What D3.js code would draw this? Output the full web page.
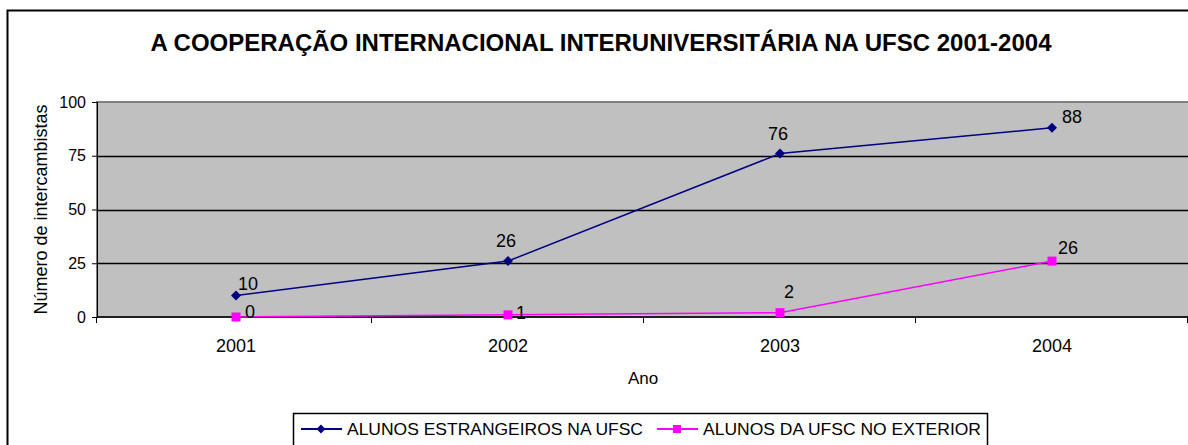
<!DOCTYPE html>
<html>
<head>
<meta charset="utf-8">
<script src="https://cdn.jsdelivr.net/npm/d3@7"></script>
<style>
  body { margin: 0; background: #fff; }
  svg { display: block; font-family: "Liberation Sans", Arial, sans-serif; }
</style>
</head>
<body>
<div id="chart"></div>
<script>
// -------------------- DATA --------------------
const anos = ["2001", "2002", "2003", "2004"];
const estrangeiros = [10, 26, 76, 88];
const exterior = [0, 1, 2, 26];
const yTicks = [0, 25, 50, 75, 100];
const nomesSeries = ["ALUNOS ESTRANGEIROS NA UFSC", "ALUNOS DA UFSC NO EXTERIOR"];

// deslocamento dos rótulos (layout, not data)
const offEstr = [[12, -12], [-2, -20], [-2, -20], [20, -11]];
const offExt = [[14, -5], [13, -2], [9, -21], [16, -13]];

const width = 1188, height = 445;
const plotLeft = 97, plotTop = 102, plotBottom = 317;

const svg = d3.select("#chart").append("svg")
  .attr("width", width)
  .attr("height", height);

// moldura externa
svg.append("rect")
  .attr("x", 7.5).attr("y", 10.5)
  .attr("width", width).attr("height", height)
  .attr("fill", "none").attr("stroke", "#000").attr("stroke-width", 2);

// titulo
svg.append("text")
  .attr("x", 601).attr("y", 51)
  .attr("text-anchor", "middle")
  .style("font-weight", "bold")
  .style("font-size", "24px")
  .text("A COOPERAÇÃO INTERNACIONAL INTERUNIVERSITÁRIA NA UFSC 2001-2004");

const x = d3.scaleBand()
  .domain(anos)
  .range([100, 1188]);

const y = d3.scaleLinear()
  .domain([0, 100])
  .range([plotBottom, plotTop]);

// area do grafico
svg.append("rect")
  .attr("x", plotLeft).attr("y", y(100))
  .attr("width", width + 10 - plotLeft)
  .attr("height", y(0) - y(100))
  .attr("fill", "#c0c0c0")
  .attr("stroke", "#808080").attr("stroke-width", 2);

// linhas de grade
svg.selectAll(".grid")
  .data(yTicks.filter(d => d > 0 && d < 100))
  .enter().append("line")
  .attr("x1", plotLeft).attr("x2", width)
  .attr("y1", d => Math.round(y(d)) + 0.5).attr("y2", d => Math.round(y(d)) + 0.5)
  .attr("stroke", "#000").attr("stroke-width", 1.5);

// eixo Y
const yAxis = svg.append("g")
  .attr("transform", `translate(${plotLeft},0)`)
  .call(d3.axisLeft(y).tickValues(yTicks).tickSize(5).tickPadding(6));
yAxis.select(".domain").attr("stroke", "#000");
yAxis.selectAll("text").style("font-size", "16px").style("font-family", "Liberation Sans, Arial").attr("fill", "#000");

// eixo X (marcas entre as categorias)
const xAxisG = svg.append("g").attr("transform", `translate(0,${y(0)})`);
xAxisG.append("line")
  .attr("x1", plotLeft).attr("x2", width)
  .attr("stroke", "#000").attr("stroke-width", 1.5);
const limites = [plotLeft].concat(anos.map(a => x(a) + x.bandwidth()));
xAxisG.selectAll(".tk")
  .data(limites)
  .enter().append("line")
  .attr("x1", d => Math.round(d) - 0.5).attr("x2", d => Math.round(d) - 0.5)
  .attr("y1", 0).attr("y2", 6)
  .attr("stroke", "#000");
xAxisG.selectAll(".lbl")
  .data(anos)
  .enter().append("text")
  .attr("x", d => x(d) + x.bandwidth() / 2)
  .attr("y", 29)
  .attr("dy", "0.35em")
  .attr("text-anchor", "middle")
  .style("font-size", "18px")
  .text(d => d);

// titulos dos eixos
svg.append("text")
  .attr("x", 643)
  .attr("y", 378)
  .attr("dy", "0.35em")
  .attr("text-anchor", "middle")
  .style("font-size", "17px")
  .text("Ano");

svg.append("text")
  .attr("transform", `translate(41,${(y(0) + y(100)) / 2}) rotate(-90)`)
  .attr("dy", "0.35em")
  .attr("text-anchor", "middle")
  .style("font-size", "18px")
  .text("Número de intercambistas");

// -------------------- SERIES --------------------
const cx = (d, i) => x(anos[i]) + x.bandwidth() / 2;
const line = d3.line().x((d, i) => cx(d, i)).y(d => y(d));

svg.append("path")
  .datum(estrangeiros)
  .attr("d", line)
  .attr("fill", "none").attr("stroke", "#000080").attr("stroke-width", 1.5);

svg.append("path")
  .datum(exterior)
  .attr("d", line)
  .attr("fill", "none").attr("stroke", "#ff00ff").attr("stroke-width", 1.5);

svg.selectAll(".diam")
  .data(estrangeiros)
  .enter().append("path")
  .attr("transform", (d, i) => `translate(${cx(d, i)},${y(d)})`)
  .attr("d", "M0,-5L5,0L0,5L-5,0Z")
  .attr("fill", "#000080");

svg.selectAll(".sq")
  .data(exterior)
  .enter().append("rect")
  .attr("x", (d, i) => cx(d, i) - 4.5)
  .attr("y", d => y(d) - 4.5)
  .attr("width", 9).attr("height", 9)
  .attr("fill", "#ff00ff");

// rotulos
svg.selectAll(".lb1")
  .data(estrangeiros)
  .enter().append("text")
  .attr("x", (d, i) => cx(d, i) + offEstr[i][0])
  .attr("y", (d, i) => y(d) + offEstr[i][1])
  .attr("dy", "0.35em")
  .attr("text-anchor", "middle")
  .style("font-size", "18px")
  .text(d => d);

svg.selectAll(".lb2")
  .data(exterior)
  .enter().append("text")
  .attr("x", (d, i) => cx(d, i) + offExt[i][0])
  .attr("y", (d, i) => y(d) + offExt[i][1])
  .attr("dy", "0.35em")
  .attr("text-anchor", "middle")
  .style("font-size", "18px")
  .text(d => d);

// -------------------- LEGENDA --------------------
const leg = svg.append("g");
leg.append("rect")
  .attr("x", 293.5).attr("y", 413.5)
  .attr("width", 694).attr("height", 40)
  .attr("fill", "#fff").attr("stroke", "#000").attr("stroke-width", 1.5);

const legItems = [
  { nome: nomesSeries[0], cor: "#000080", x0: 301, largura: 296, tipo: "d" },
  { nome: nomesSeries[1], cor: "#ff00ff", x0: 657, largura: 278, tipo: "s" }
];
legItems.forEach(it => {
  const yy = 429;
  leg.append("line")
    .attr("x1", it.x0).attr("x2", it.x0 + 41)
    .attr("y1", yy).attr("y2", yy)
    .attr("stroke", it.cor).attr("stroke-width", 2);
  if (it.tipo === "d") {
    leg.append("path")
      .attr("transform", `translate(${it.x0 + 20},${yy})`)
      .attr("d", "M0,-4.5L4.5,0L0,4.5L-4.5,0Z")
      .attr("fill", it.cor);
  } else {
    leg.append("rect")
      .attr("x", it.x0 + 16).attr("y", yy - 4)
      .attr("width", 8).attr("height", 8)
      .attr("fill", it.cor);
  }
  leg.append("text")
    .attr("x", it.x0 + 46).attr("y", yy)
    .attr("dy", "0.35em")
    .attr("textLength", it.largura)
    .attr("lengthAdjust", "spacingAndGlyphs")
    .style("font-size", "17px")
    .text(it.nome);
});
</script>
</body>
</html>
